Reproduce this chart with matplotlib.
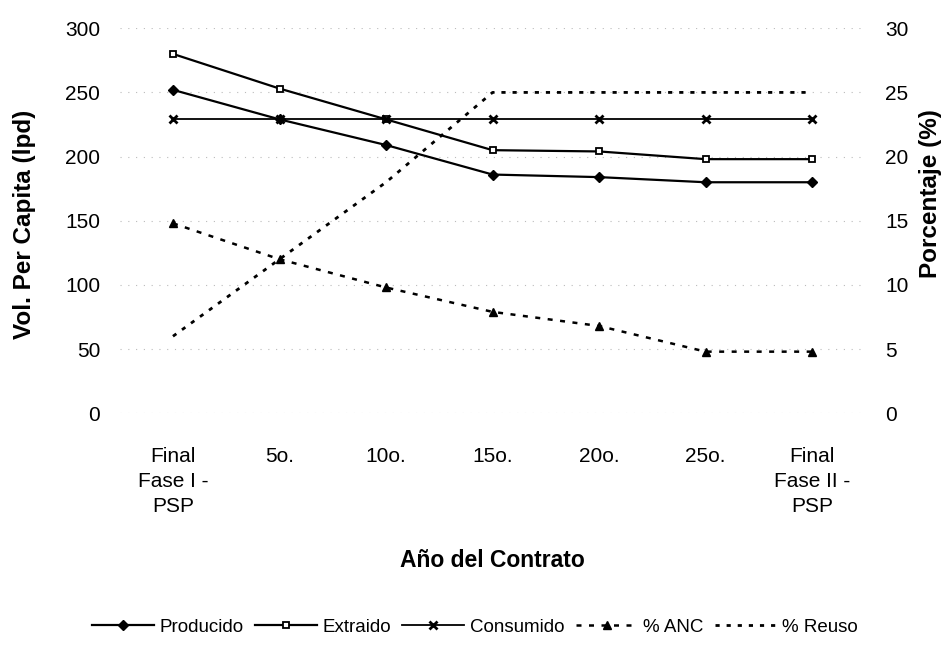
import matplotlib.pyplot as plt

plt.rcParams['font.family'] = ['Liberation Sans', 'DejaVu Sans']

# datos
anios = ['Final\nFase I -\nPSP', '5o.', '10o.', '15o.', '20o.', '25o.', 'Final\nFase II -\nPSP']
producido = [252, 229, 209, 186, 184, 180, 180]
extraido = [280, 253, 229, 205, 204, 198, 198]
consumido = [229, 229, 229, 229, 229, 229, 229]
anc = [14.8, 12.0, 9.8, 7.9, 6.8, 4.8, 4.8]      # % ANC (eje derecho)
reuso = [6.0, 12.0, 18.0, 25.0, 25.0, 25.0, 25.0]  # % Reuso (eje derecho)

x = list(range(len(anios)))

fig = plt.figure(figsize=(9.5, 6.57), dpi=100)
ax = fig.add_axes([0.126, 0.371, 0.785, 0.586])
ax2 = ax.twinx()

l1, = ax.plot(x, producido, color='black', lw=1.6, marker='D', ms=5, label='Producido')
l2, = ax.plot(x, extraido, color='black', lw=1.6, marker='s', ms=5, mfc='white', mew=1.3, label='Extraido')
l3, = ax.plot(x, consumido, color='black', lw=1.3, marker='x', ms=6, mew=2, label='Consumido')
l4, = ax2.plot(x, anc, color='black', lw=1.8, ls=(0, (2, 3)), marker='^', ms=6, label='% ANC')
l5, = ax2.plot(x, reuso, color='black', lw=2, ls=(0, (1.5, 2.5)), label='% Reuso')

ax.set_xlim(-0.5, 6.5)
ax.set_ylim(0, 300)
ax2.set_ylim(0, 30)
ax.set_yticks(range(0, 301, 50))
ax2.set_yticks(range(0, 31, 5))
ax.set_xticks(x)
ax.set_xticklabels(anios, fontsize=15, linespacing=1.4)

ax.grid(axis='y', color='#bbbbbb', ls=(0, (1, 6)), lw=0.8)
for a in (ax, ax2):
    for s in a.spines.values():
        s.set_visible(False)
    a.tick_params(axis='y', length=0, labelsize=15, pad=14)
ax.tick_params(axis='x', length=0, pad=24)

ax.set_ylabel('Vol. Per Capita (lpd)', fontsize=17.5, fontweight='bold')
ax.yaxis.set_label_coords(-0.112, 0.49)
ax2.set_ylabel('Porcentaje (%)', fontsize=17.5, fontweight='bold')
ax2.yaxis.set_label_coords(1.072, 0.57)
ax.set_xlabel('Año del Contrato', fontsize=16.5, fontweight='bold', labelpad=24)

fig.legend(handles=[l1, l2, l3, l4, l5], loc='center', bbox_to_anchor=(0.5, 0.045),
           ncol=5, frameon=False, fontsize=13.5, handlelength=3.3, columnspacing=0.6,
           handletextpad=0.3)

fig.savefig('out.png', dpi=100)
